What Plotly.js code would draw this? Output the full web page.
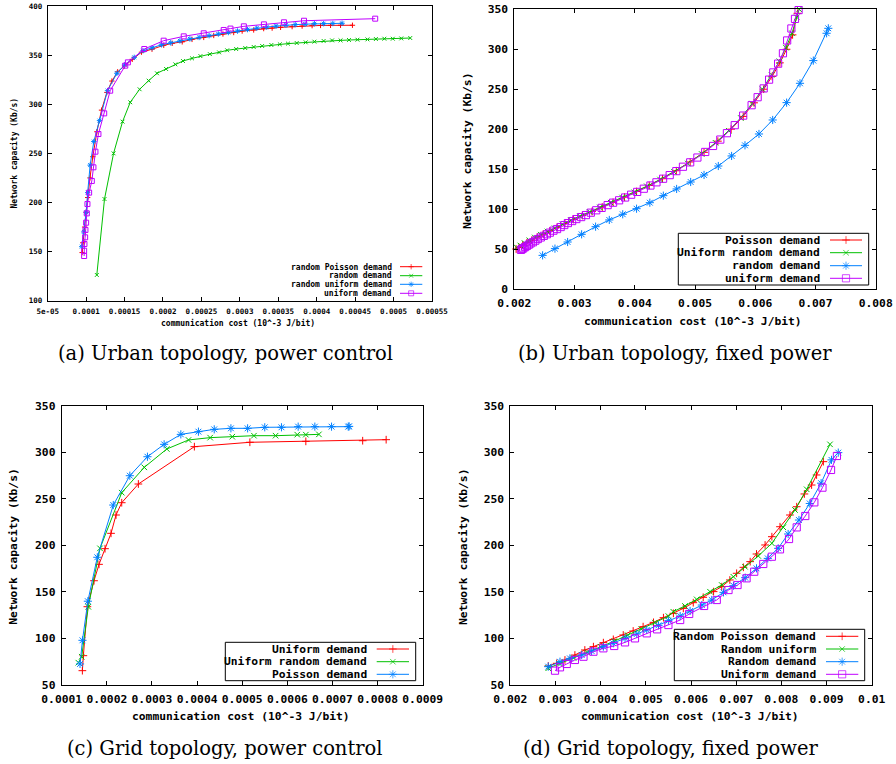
<!DOCTYPE html>
<html><head><meta charset="utf-8">
<script src="https://cdn.plot.ly/plotly-3.0.1.min.js"></script>
<style>html,body{margin:0;padding:0;background:#fff}#chart{width:896px;height:764px}</style>
</head><body><div id="chart"></div>
<script>
// ---------------- DATA ----------------
// (a) Urban topology, power control
const aLegend = ['random Poisson demand', 'random demand', 'random uniform demand', 'uniform demand'];
const aPoissonX = [9.48e-5,9.57e-5,9.8e-5,1.0e-4,1.02e-4,1.05e-4,1.087e-4,1.14e-4,1.2e-4,1.27e-4,1.335e-4,1.41e-4,1.5e-4,1.6e-4,1.72e-4,1.857e-4,2.01e-4,2.12e-4,2.25e-4,2.378e-4,2.53e-4,2.66e-4,2.78e-4,2.92e-4,3.03e-4,3.18e-4,3.31e-4,3.42e-4,3.53e-4,3.68e-4,3.81e-4,3.94e-4,4.05e-4,4.18e-4,4.31e-4,4.465e-4];
const aPoissonY = [149,159,175,190,205,225,246.6,272,294,312,323.6,333,339,345.7,353,356,360,362,363.5,366,368,370,371.5,373,374.5,375.6,377,377.5,378.3,379,379.6,380,380.2,380.3,380.4,380.4];
const aRandomX = [1.139e-4,1.239e-4,1.357e-4,1.474e-4,1.574e-4,1.696e-4,1.813e-4,1.922e-4,2.04e-4,2.16e-4,2.26e-4,2.378e-4,2.487e-4,2.61e-4,2.73e-4,2.835e-4,2.952e-4,3.07e-4,3.18e-4,3.29e-4,3.41e-4,3.52e-4,3.626e-4,3.74e-4,3.857e-4,3.97e-4,4.09e-4,4.2e-4,4.31e-4,4.42e-4,4.53e-4,4.66e-4,4.77e-4,4.88e-4,4.99e-4,5.1e-4,5.217e-4];
const aRandomY = [126.2,203.5,250,282.3,302,315.2,324,331.5,335.9,340.6,344,346.7,349,351,352.8,354.9,356.2,357.2,358.3,359.3,360.3,361,361.7,362.3,363,363.7,364.4,365,365,365.4,365.7,366,366.4,366.7,366.7,367,367.4];
const aRandUnifX = [9.43e-5,9.7e-5,1.0e-4,1.02e-4,1.052e-4,1.1e-4,1.174e-4,1.278e-4,1.4e-4,1.5e-4,1.626e-4,1.74e-4,1.86e-4,1.98e-4,2.1e-4,2.22e-4,2.35e-4,2.47e-4,2.6e-4,2.72e-4,2.85e-4,2.97e-4,3.1e-4,3.22e-4,3.35e-4,3.47e-4,3.6e-4,3.72e-4,3.85e-4,3.97e-4,4.09e-4,4.21e-4,4.33e-4];
const aRandUnifY = [155,170,190,210,238,262,283.3,313.8,331.5,340,347.7,354.5,357.5,360.5,362.5,364.5,366.5,368,369.8,371.5,373,374.5,376,377.5,378.5,379.5,380.5,381,381.5,382,382,382.2,382.4];
const aUniformX = [9.74e-5,9.74e-5,9.78e-5,9.87e-5,9.91e-5,1.0e-4,1.009e-4,1.017e-4,1.039e-4,1.074e-4,1.095e-4,1.121e-4,1.16e-4,1.235e-4,1.313e-4,1.509e-4,1.543e-4,1.757e-4,2.009e-4,2.27e-4,2.53e-4,2.79e-4,2.878e-4,3.052e-4,3.313e-4,3.574e-4,3.835e-4,4.761e-4];
const aUniformY = [145.5,150.9,157.7,164.5,172,179.4,188.9,198.4,210,221.9,235.8,251.7,269.7,290.7,313.8,339.3,342.6,356.2,364.7,369.1,372.2,375.6,377,379.3,381.3,383.4,385,387.1];
const aXTickVals = [5e-5,1e-4,1.5e-4,2e-4,2.5e-4,3e-4,3.5e-4,4e-4,4.5e-4,5e-4,5.5e-4];
const aXTickText = ['5e-05','0.0001','0.00015','0.0002','0.00025','0.0003','0.00035','0.0004','0.00045','0.0005','0.00055'];
const aYTickVals = [100,150,200,250,300,350,400];

// (b) Urban topology, fixed power
const bLegend = ['Poisson demand', 'Uniform random demand', 'random demand', 'uniform demand'];
const bPoissonX = [0.00203,0.00208,0.00214,0.00221,0.00229,0.00238,0.00248,0.00259,0.00271,0.00284,0.00298,0.00313,0.00329,0.00346,0.00364,0.00383,0.00403,0.00424,0.00446,0.00469,0.00492,0.00515,0.00538,0.00560,0.00580,0.00598,0.00614,0.00628,0.00641,0.00652,0.00662,0.00670];
const bPoissonY = [50,52,55,58,61,65,68.5,72.5,77,82,87,92,97,102.5,108.5,115,122,129.5,138,148,159,171,185,200,216,233,250,266,283,300,318,345];
const bUnifRandX = [0.00204,0.00210,0.00217,0.00225,0.00234,0.00244,0.00255,0.00267,0.00280,0.00294,0.00309,0.00325,0.00342,0.00360,0.00379,0.00399,0.00420,0.00442,0.00465,0.00488,0.00511,0.00534,0.00556,0.00576,0.00595,0.00612,0.00627,0.00640,0.00651,0.00661,0.00669,0.00673];
const bUnifRandY = [52,54.5,57.5,61,64.5,68,72,76,81,86,91,96.5,102,108,114.5,121,128.5,137,146.5,157,169,183,198,214,232,250,268,285,302,320,340,350];
const bRandomX = [0.00247,0.002675,0.002885,0.003118,0.00335,0.003577,0.0038,0.00403,0.00425,0.004474,0.004695,0.004928,0.00515,0.005387,0.005608,0.00583,0.006062,0.00629,0.006521,0.006743,0.006964,0.007185,0.007213];
const bRandomY = [42.1,50.5,58.8,68.4,78,86.4,93.5,100.5,108,116.8,125.2,133.9,142.7,153.9,166.5,179.8,194,211.5,233.2,257.4,285.8,320,326.2];
const bUniformX = [0.00211,0.00213,0.00215,0.00218,0.00221,0.00224,0.00227,0.00231,0.00235,0.00239,0.00244,0.00249,0.00254,0.00259,0.00265,0.00271,0.00277,0.00283,0.00289,0.00296,0.00303,0.00311,0.00319,0.00327,0.00336,0.00345,0.00355,0.00364,0.00374,0.00384,0.00394,0.00404,0.00415,0.00426,0.00436,0.00447,0.00458,0.00469,0.00480,0.00492,0.00504,0.00517,0.00530,0.00542,0.00553,0.00566,0.00580,0.00594,0.00604,0.00614,0.00623,0.00630,0.00638,0.00646,0.00653,0.00660,0.00666,0.00672];
const bUniformY = [49,50,51,52.5,54,55.5,57,58.5,60.5,62.5,64.5,66.5,68.5,70.5,73,75,77.5,80,82.5,85,87.5,90,92.5,95.5,98.5,101.5,105,108,111,114.5,118,121.5,125.5,129.5,133.5,138,142.5,147.5,153,158.5,164.5,171.5,179,187,195,205,217,230,240,251,262,271,282,295,311,326,338,349];
const bXTickVals = [0.002,0.003,0.004,0.005,0.006,0.007,0.008];
const bXTickText = ['0.002','0.003','0.004','0.005','0.006','0.007','0.008'];
const bYTickVals = [0,50,100,150,200,250,300,350];

// (c) Grid topology, power control
const cLegend = ['Uniform demand', 'Uniform random demand', 'Poisson demand'];
const cUniformX = [1.458e-4,1.48e-4,1.569e-4,1.716e-4,1.827e-4,1.96e-4,2.093e-4,2.204e-4,2.33e-4,2.699e-4,3.94e-4,5.17e-4,6.41e-4,7.67e-4,8.19e-4];
const cUniformY = [65.4,81.5,134.1,162,179.6,196.4,212.9,232.6,245.8,265.9,306,310.7,311.7,312.4,313.5];
const cUnifRandX = [1.369e-4,1.443e-4,1.59e-4,1.849e-4,2.33e-4,2.83e-4,3.33e-4,3.81e-4,4.29e-4,4.78e-4,5.26e-4,5.74e-4,6.22e-4,6.41e-4,6.7e-4];
const cUnifRandY = [74,80.4,134,196.8,256.6,283.8,303.5,313.2,315.7,316.7,317.8,317.8,318.9,318.9,319.2];
const cPoissonX = [1.406e-4,1.46e-4,1.58e-4,1.789e-4,2.143e-4,2.51e-4,2.9e-4,3.27e-4,3.64e-4,4.03e-4,4.38e-4,4.75e-4,5.12e-4,5.5e-4,5.87e-4,6.24e-4,6.61e-4,6.98e-4,7.35e-4,7.37e-4];
const cPoissonY = [72.6,98,140,187.2,243.3,274.8,295.2,308.5,319.2,322.1,324.6,325.7,325.7,326.8,326.8,327.5,327.5,327.5,327.5,327.8];
const cXTickVals = [1e-4,2e-4,3e-4,4e-4,5e-4,6e-4,7e-4,8e-4,9e-4];
const cXTickText = ['0.0001','0.0002','0.0003','0.0004','0.0005','0.0006','0.0007','0.0008','0.0009'];
const cYTickVals = [50,100,150,200,250,300,350];

// (d) Grid topology, fixed power
const dLegend = ['Random Poisson demand', 'Random uniform', 'Random demand', 'Uniform demand'];
const dPoissonX = [0.00284,0.003026,0.00321,0.00343,0.00365,0.00384,0.00406,0.00428,0.0045,0.00472,0.00494,0.00517,0.00539,0.00561,0.00583,0.00605,0.00627,0.0065,0.00668,0.00686,0.00701,0.00716,0.00731,0.00745,0.00764,0.00779,0.00797,0.00819,0.00834,0.00851,0.00867,0.00878,0.00893];
const dPoissonY = [70.4,73.3,76.9,82.2,87.6,91.2,95.5,99,103.7,108,112.7,117.3,122.3,127,132.3,138.4,144.2,150.3,155.6,162.8,170,176.4,182.5,190.7,200.4,209.3,220,232.6,241.5,255.2,264.8,275.6,289.9];
const dRandUnifX = [0.00284,0.0031,0.0034,0.0037,0.004,0.0043,0.0046,0.0049,0.0052,0.0055,0.005608,0.005867,0.006126,0.006421,0.00668,0.006937,0.007195,0.007489,0.00779,0.008043,0.008302,0.008561,0.009077];
const dRandUnifY = [68,73,79,85,91,97,103.5,110,117,124,128.7,134.9,142,150.2,157.4,166.3,177,188.6,202.2,219.4,238,260.2,308.5];
const dRandomX = [0.00284,0.0031,0.00332,0.00358,0.0038,0.00406,0.00428,0.00454,0.0048,0.00502,0.00528,0.0055,0.00576,0.00598,0.00624,0.00646,0.00672,0.00694,0.0072,0.00745,0.0077,0.00793,0.00815,0.00839,0.00863,0.00888,0.00911,0.00926];
const dRandomY = [69.7,75,78.6,82.2,86.5,91.2,94.8,100.1,104.8,109.1,114.1,119.1,124.1,129.5,135.9,141.3,149.5,156.7,165.3,175.3,186,196.8,212.2,227.2,245,266.8,291.8,299.6];
const dUniformX = [0.00299,0.0031,0.00325,0.00343,0.00362,0.00384,0.00406,0.0043,0.00454,0.00476,0.00502,0.00525,0.0055,0.00576,0.00596,0.00629,0.00657,0.00683,0.00703,0.00723,0.0074,0.0076,0.00779,0.00797,0.00817,0.00834,0.00853,0.00873,0.00891,0.0091,0.00923];
const dUniformY = [65.4,69,72.6,76.9,80.4,85.8,89.4,91.9,95.8,100.1,105.5,109.8,114.4,119.8,126.3,134.9,141.3,152,157.4,164.6,171.7,180,187.8,195.7,206.8,219.3,231.5,246.2,262,281,296];
const dXTickVals = [0.002,0.003,0.004,0.005,0.006,0.007,0.008,0.009,0.01];
const dXTickText = ['0.002','0.003','0.004','0.005','0.006','0.007','0.008','0.009','0.01'];
const dYTickVals = [50,100,150,200,250,300,350];

const captions = ['(a) Urban topology, power control', '(b) Urban topology, fixed power', '(c) Grid topology, power control', '(d) Grid topology, fixed power'];
const xTitle = 'communication cost (10^-3 J/bit)';
const yTitle = 'Network capacity (Kb/s)';

// ---------------- STYLE / LAYOUT ----------------
const W = 896, H = 764;
const RED = '#ff0000', GREEN = '#00c000', BLUE = '#0080ff', MAG = '#c000ff';
const MONO = 'DejaVu Sans Mono';
const P = {
  a: {l: 47.7, r: 432, t: 6, b: 300.7, fs: 7.5, tfs: 8},
  b: {l: 514.3, r: 875.7, t: 9.3, b: 289, fs: 11.3, tfs: 11.3},
  c: {l: 61.7, r: 422.7, t: 405.7, b: 685, fs: 11.3, tfs: 11.3},
  d: {l: 510.3, r: 871.7, t: 405.7, b: 685, fs: 11.3, tfs: 11.3}
};
const px = v => v / W, py = v => 1 - v / H;

function xAx(p, range, tv, tt) {
  return {domain: [px(p.l), px(p.r)], range: range, tickmode: 'array', tickvals: tv, ticktext: tt,
    showline: true, linecolor: '#000', linewidth: 1, mirror: 'allticks', ticks: 'inside', ticklen: 4,
    tickcolor: '#000', tickwidth: 1, showgrid: false, zeroline: false, automargin: false, fixedrange: true,
    tickfont: {family: MONO, size: p.fs, weight: 'bold', color: '#000'}, ticklabelstandoff: 3};
}
function yAx(p, range, tv) {
  return {domain: [py(p.b), py(p.t)], range: range, tickmode: 'array', tickvals: tv, ticktext: tv.map(String),
    showline: true, linecolor: '#000', linewidth: 1, mirror: 'allticks', ticks: 'inside', ticklen: 4,
    tickcolor: '#000', tickwidth: 1, showgrid: false, zeroline: false, automargin: false, fixedrange: true,
    tickfont: {family: MONO, size: p.fs, weight: 'bold', color: '#000'}, ticklabelstandoff: 3};
}

const SYM = {
  plus: 'cross-thin-open', cross: 'x-thin-open', star: 'asterisk-open', square: 'square-open'
};
function series(xs, ys, color, sym, size, ax) {
  return {x: xs, y: ys, type: 'scatter', mode: 'lines+markers', xaxis: ax[0], yaxis: ax[1],
    line: {color: color, width: 1}, cliponaxis: false, showlegend: false, hoverinfo: 'skip',
    marker: {symbol: SYM[sym], size: size, color: color, line: {color: color, width: 1}}};
}

const traces = [
  series(aPoissonX, aPoissonY, RED, 'plus', 3.8, ['x', 'y']),
  series(aRandomX, aRandomY, GREEN, 'cross', 3.8, ['x', 'y']),
  series(aRandUnifX, aRandUnifY, BLUE, 'star', 4.5, ['x', 'y']),
  series(aUniformX, aUniformY, MAG, 'square', 5, ['x', 'y']),
  series(bPoissonX, bPoissonY, RED, 'plus', 5.5, ['x2', 'y2']),
  series(bUnifRandX, bUnifRandY, GREEN, 'cross', 5.5, ['x2', 'y2']),
  series(bRandomX, bRandomY, BLUE, 'star', 6.8, ['x2', 'y2']),
  series(bUniformX, bUniformY, MAG, 'square', 7.2, ['x2', 'y2']),
  series(cUniformX, cUniformY, RED, 'plus', 5.5, ['x3', 'y3']),
  series(cUnifRandX, cUnifRandY, GREEN, 'cross', 5.5, ['x3', 'y3']),
  series(cPoissonX, cPoissonY, BLUE, 'star', 6.8, ['x3', 'y3']),
  series(dPoissonX, dPoissonY, RED, 'plus', 5.5, ['x4', 'y4']),
  series(dRandUnifX, dRandUnifY, GREEN, 'cross', 5.5, ['x4', 'y4']),
  series(dRandomX, dRandomY, BLUE, 'star', 6.8, ['x4', 'y4']),
  series(dUniformX, dUniformY, MAG, 'square', 7.2, ['x4', 'y4'])
];

const annotations = [];
const shapes = [];

// gnuplot-style keys: text right-aligned, sample line + point to the right
function key(labels, colors, syms, sizes, textRight, s0, s1, rows, fs, box) {
  labels.forEach((lab, i) => {
    annotations.push({xref: 'paper', yref: 'paper', x: px(textRight), y: py(rows[i]), xanchor: 'right', yanchor: 'middle',
      text: lab, showarrow: false, font: {family: MONO, size: fs, weight: 'bold', color: '#000'}});
    traces.push({x: [s0, (s0 + s1) / 2, s1], y: [rows[i], rows[i], rows[i]], xaxis: 'x5', yaxis: 'y5', type: 'scatter',
      mode: 'lines+markers', showlegend: false, hoverinfo: 'skip', cliponaxis: false,
      line: {color: colors[i], width: 1},
      marker: {symbol: SYM[syms[i]], size: [0, sizes[i], 0], color: colors[i], line: {color: colors[i], width: 1}}});
  });
  if (box) shapes.push({type: 'rect', xref: 'paper', yref: 'paper', x0: px(box[0]), x1: px(box[1]), y0: py(box[3]), y1: py(box[2]),
    line: {color: '#000', width: 1}});
}
key(aLegend, [RED, GREEN, BLUE, MAG], ['plus', 'cross', 'star', 'square'], [3.8, 3.8, 4.5, 5], 394.3, 400, 422.3, [266.7, 275.7, 284.3, 293.3], 8, null);
key(bLegend, [RED, GREEN, BLUE, MAG], ['plus', 'cross', 'star', 'square'], [5.5, 5.5, 6.8, 7.2], 821.7, 830, 862, [240, 252.7, 265.7, 278.3], 11.3, [678.3, 868.7, 233.3, 285]);
key(cLegend, [RED, GREEN, BLUE], ['plus', 'cross', 'star'], [5.5, 5.5, 6.8], 369.3, 376.7, 409, [649, 661.7, 674.3], 11.3, [225.3, 415.7, 642.3, 680.7]);
key(dLegend, [RED, GREEN, BLUE, MAG], ['plus', 'cross', 'star', 'square'], [5.5, 5.5, 6.8, 7.2], 818.3, 826, 858.3, [636.3, 649, 661.7, 674.3], 11.3, [674.3, 864.7, 629.3, 680.7]);

// axis titles
function axTitles(xc, xy, yx, yc, fs) {
  annotations.push({xref: 'paper', yref: 'paper', x: px(xc), y: py(xy), xanchor: 'center', yanchor: 'middle', showarrow: false,
    text: xTitle, font: {family: MONO, size: fs, weight: 'bold', color: '#000'}});
  annotations.push({xref: 'paper', yref: 'paper', x: px(yx), y: py(yc), xanchor: 'center', yanchor: 'middle', showarrow: false,
    textangle: -90, text: yTitle, font: {family: MONO, size: fs, weight: 'bold', color: '#000'}});
}
axTitles(238, 322.7, 14.3, 153.3, 8);
axTitles(693, 321, 467.3, 150.7, 11.3);
axTitles(241, 716.7, 14, 546.7, 11.3);
axTitles(690, 716.7, 463.3, 546.7, 11.3);

// captions
[[225, 353.5], [675, 353.5], [225, 748.3], [670, 748.3]].forEach((c, i) => {
  annotations.push({xref: 'paper', yref: 'paper', x: px(c[0]), y: py(c[1]), xanchor: 'center', yanchor: 'middle', showarrow: false,
    text: captions[i], font: {family: 'DejaVu Serif', size: 19.5, color: '#000'}});
});

const layout = {
  width: W, height: H, margin: {l: 0, r: 0, t: 0, b: 0, pad: 0},
  paper_bgcolor: '#fff', plot_bgcolor: 'rgba(0,0,0,0)', showlegend: false,
  xaxis: xAx(P.a, [5e-5, 5.5e-4], aXTickVals, aXTickText), yaxis: yAx(P.a, [100, 400], aYTickVals),
  xaxis2: xAx(P.b, [0.002, 0.008], bXTickVals, bXTickText), yaxis2: yAx(P.b, [0, 350], bYTickVals),
  xaxis3: xAx(P.c, [1e-4, 9e-4], cXTickVals, cXTickText), yaxis3: yAx(P.c, [50, 350], cYTickVals),
  xaxis4: xAx(P.d, [0.002, 0.01], dXTickVals, dXTickText), yaxis4: yAx(P.d, [50, 350], dYTickVals),
  xaxis5: {domain: [0, 1], range: [0, W], visible: false, anchor: 'y5', fixedrange: true},
  yaxis5: {domain: [0, 1], range: [H, 0], visible: false, anchor: 'x5', fixedrange: true},
  annotations: annotations, shapes: shapes
};
['xaxis', 'xaxis2', 'xaxis3', 'xaxis4'].forEach((k, i) => layout[k].anchor = i === 0 ? 'y' : 'y' + (i + 1));
['yaxis', 'yaxis2', 'yaxis3', 'yaxis4'].forEach((k, i) => layout[k].anchor = i === 0 ? 'x' : 'x' + (i + 1));

Plotly.newPlot('chart', traces, layout, {displayModeBar: false, staticPlot: true});
</script></body></html>
